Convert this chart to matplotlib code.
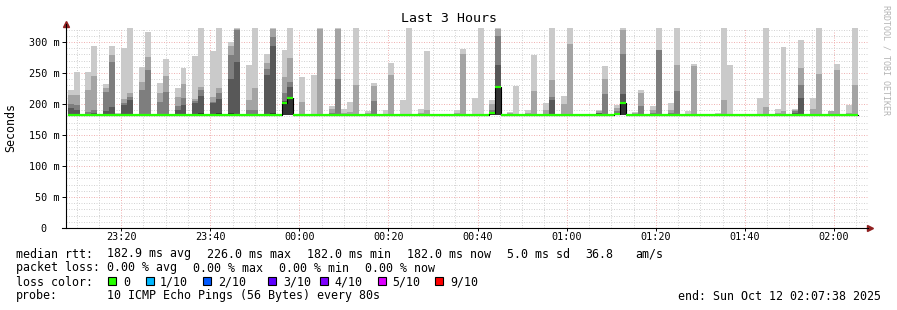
import numpy as np
import matplotlib
matplotlib.use('Agg')
import matplotlib.pyplot as plt
from matplotlib.patches import Rectangle

# time axis in minutes relative to 00:00, one column every 80 s
n_cols = 133
step = 80 / 60
t_first = -52.0
t_start, t_end = -52.37, 127.63
rtt_min = 182.0

# smoke columns: sorted upper pings (ms) of the 10 pings, lower half ~ rtt_min
smoke_cols = [0, 1, 3, 4, 6, 7, 8, 9, 10, 12, 13, 15, 16, 18, 19, 21, 22, 24, 25,
              27, 28, 30, 31, 33, 34, 36, 37, 39, 41, 42, 44, 45, 46, 47, 48, 50,
              51, 53, 54, 56, 57, 59, 60, 65, 66, 68, 69, 71, 72, 74, 75, 77, 78,
              80, 81, 83, 84, 89, 90, 92, 93, 95, 96, 98, 99, 101, 102, 104, 105,
              109, 110, 111, 116, 117, 119, 120, 122, 123, 125, 126, 128, 129, 131, 132]
ping10 = [222, 251, 251, 293, 232, 293, 186, 290, 322, 260, 316, 234, 272, 226, 258, 277, 322, 286, 322,
          300, 322, 263, 322, 281, 322, 287, 322, 244, 246, 322, 196, 322, 192, 204, 322, 188,
          234, 190, 266, 206, 322, 192, 285, 190, 289, 210, 322, 206, 322, 187, 229, 190, 279,
          202, 322, 213, 322, 190, 261, 198, 322, 187, 223, 196, 322, 202, 322, 189, 265,
          186, 322, 263, 210, 322, 192, 292, 192, 303, 210, 322, 189, 265, 198, 322]
ping9 = [214, 215, 222, 245, 226, 279, 182, 208, 218, 236, 276, 218, 245, 211, 233, 208, 227, 212, 226,
         293, 321, 206, 226, 266, 321, 244, 275, 204, 184, 321, 192, 321, 185, 187, 231, 185,
         229, 184, 247, 183, 183, 185, 190, 186, 281, 183, 183, 200, 321, 185, 184, 185, 221,
         190, 238, 200, 297, 188, 240, 194, 319, 185, 218, 190, 287, 190, 263, 184, 261,
         182, 206, 183, 184, 195, 185, 189, 190, 258, 192, 248, 188, 255, 186, 231]
ping8 = [200, 199, 187, 190, 220, 267, 182, 201, 211, 223, 255, 203, 219, 197, 209, 205, 223, 203, 217,
         279, 320, 191, 190, 257, 308, 218, 236, 183, 182, 184, 186, 240, 182, 182, 184, 182,
         205, 182, 183, 182, 182, 182, 182, 182, 183, 182, 182, 190, 310, 182, 182, 182, 183,
         184, 211, 183, 183, 186, 216, 188, 281, 182, 197, 185, 287, 185, 221, 182, 183,
         182, 183, 182, 182, 184, 182, 184, 188, 231, 184, 184, 182, 184, 182, 184]
ping7 = [193, 190, 183, 186, 188, 195, 182, 199, 206, 184, 183, 183, 183, 191, 199, 201, 213, 201, 208,
         240, 268, 184, 184, 247, 293, 205, 228, 182, 182, 182, 182, 184, 182, 182, 182, 182,
         184, 182, 182, 182, 182, 182, 182, 182, 182, 182, 182, 186, 263, 182, 182, 182, 182,
         182, 206, 182, 182, 185, 183, 185, 216, 182, 184, 182, 183, 182, 183, 182, 182,
         182, 182, 182, 182, 182, 182, 182, 185, 210, 182, 182, 182, 182, 182, 182]
ping6 = [183, 183, 182, 182, 183, 183, 182, 183, 184, 182, 182, 182, 182, 183, 183, 184, 185, 184, 185,
         185, 184, 182, 182, 184, 185, 200, 211, 182, 182, 182, 182, 182, 182, 182, 182, 182,
         182, 182, 182, 182, 182, 182, 182, 182, 182, 182, 182, 185, 227, 182, 182, 182, 182,
         182, 184, 182, 182, 182, 182, 184, 202, 182, 182, 182, 182, 182, 182, 182, 182,
         182, 182, 182, 182, 182, 182, 182, 182, 184, 182, 182, 182, 182, 182, 182]
shades = ['#cacaca', '#a4a4a4', '#7e7e7e', '#585858', '#323232']

# columns whose median differs from rtt_min
med_cols = [36, 37, 71, 72, 92, 93]
med_vals = [201, 210, 186, 227, 184, 201]

x_ticks = [-40, -20, 0, 20, 40, 60, 80, 100, 120]
x_labels = ['23:20', '23:40', '00:00', '00:20', '00:40', '01:00', '01:20', '01:40', '02:00']
y_ticks = [0, 50, 100, 150, 200, 250, 300]
y_labels = ['0  ', '50 m', '100 m', '150 m', '200 m', '250 m', '300 m']

loss_colors = ['#26ff00', '#00b8ff', '#0059ff', '#5e00ff', '#7e00ff', '#dd00ff', '#ff0000']
loss_labels = ['0', '1/10', '2/10', '3/10', '4/10', '5/10', '9/10']

W, H = 897, 310
plt.rcParams['font.family'] = 'DejaVu Sans Mono'
fig = plt.figure(figsize=(W / 100, H / 100), dpi=100)
ax = fig.add_axes([66 / W, (H - 228) / H, 802 / W, 200 / H])
ax.set_xlim(t_start, t_end)
ax.set_ylim(0, 322.6)

# grid
major_c, minor_c = '#f0b4b4', '#d4d4d4'
dots = (0, (1, 1.5))
for t in np.arange(-50, 128, 5):
    if t not in x_ticks:
        ax.axvline(t, color=minor_c, lw=0.72, ls=dots, zorder=0)
for t in x_ticks:
    ax.axvline(t, color=major_c, lw=0.72, ls=dots, zorder=0)
for v in range(10, 330, 10):
    if v % 50:
        ax.axhline(v, color=minor_c, lw=0.72, ls=dots, zorder=0)
for v in y_ticks[1:]:
    ax.axhline(v, color=major_c, lw=0.72, ls=dots, zorder=0)

# smoke
xs = t_first + np.array(smoke_cols) * step
for tops, c in zip([ping10, ping9, ping8, ping7, ping6], shades):
    ax.bar(xs, np.array(tops) - rtt_min, bottom=rtt_min, width=step, align='edge',
           color=c, linewidth=0, zorder=2)

# median line
medians = np.full(n_cols, rtt_min)
medians[med_cols] = med_vals
edges = t_first + np.arange(n_cols + 1) * step
ax.step(edges, np.append(medians, medians[-1]), where='post', color='black', lw=0.8, zorder=3)
ax.hlines(medians, edges[:-1], edges[1:], colors=loss_colors[0], lw=1.6, zorder=4)

# axes
for s in ax.spines.values():
    s.set_visible(False)
ax.plot([0, 0], [0, 1.02], transform=ax.transAxes, color='#000000', lw=0.8, clip_on=False, zorder=5)
ax.plot([-0.005, 1.0], [0, 0], transform=ax.transAxes, color='#000000', lw=0.8, clip_on=False, zorder=5)
ax.plot([0], [1.0225], transform=ax.transAxes, marker='^', ms=4.5, color='#902020', clip_on=False)
ax.plot([1.003], [0], transform=ax.transAxes, marker='>', ms=4.5, color='#902020', clip_on=False)

ax.set_xticks(x_ticks)
ax.set_xticklabels(x_labels)
ax.set_yticks(y_ticks)
ax.set_yticklabels(y_labels)
ax.tick_params(axis='x', length=2, width=0.7, pad=1.2, labelsize=7.3)
ax.tick_params(axis='y', length=3, width=0.7, pad=1.5, labelsize=7.3)

# texts
fig.text(448.5 / W, 1 - 19 / H, 'Last 3 Hours', ha='center', va='center', fontsize=9.5)
fig.text(11 / W, 1 - 127 / H, 'Seconds', ha='center', va='center', rotation=90, fontsize=8.4)
fig.text(886 / W, 1 - 60 / H, 'RRDTOOL / TOBI OETIKER', ha='center', va='center',
         rotation=-90, fontsize=6, color='#b4b4b4')


def put(x, y, s):
    fig.text(x / W, 1 - y / H, s, ha='left', va='center', fontsize=8.4)


put(16, 254, 'median rtt:')
for x, s in zip([107, 207, 307, 407, 507, 585, 635],
                ['182.9 ms avg', '226.0 ms max', '182.0 ms min', '182.0 ms now',
                 '5.0 ms sd', '36.8', 'am/s']):
    put(x, 254, s)
put(16, 268, 'packet loss:')
for x, s in zip([107, 193, 279, 365],
                ['0.00 % avg', '0.00 % max', '0.00 % min', '0.00 % now']):
    put(x, 268, s)
put(16, 282, 'loss color:')
for sx, lx, c, lab in zip([108, 146, 203, 268, 320, 378, 435],
                          [123, 160, 218, 283, 334, 392, 450], loss_colors, loss_labels):
    fig.add_artist(Rectangle((sx / W, 1 - 285 / H), 8 / W, 8 / H, transform=fig.transFigure,
                             facecolor=c, edgecolor='black', lw=0.8))
    put(lx, 282, lab)
put(16, 296, 'probe:')
put(107, 296, '10 ICMP Echo Pings (56 Bytes) every 80s')
fig.text(881 / W, 1 - 296 / H, 'end: Sun Oct 12 02:07:38 2025', ha='right', va='center', fontsize=8.4)

fig.savefig('out.png', dpi=100)
